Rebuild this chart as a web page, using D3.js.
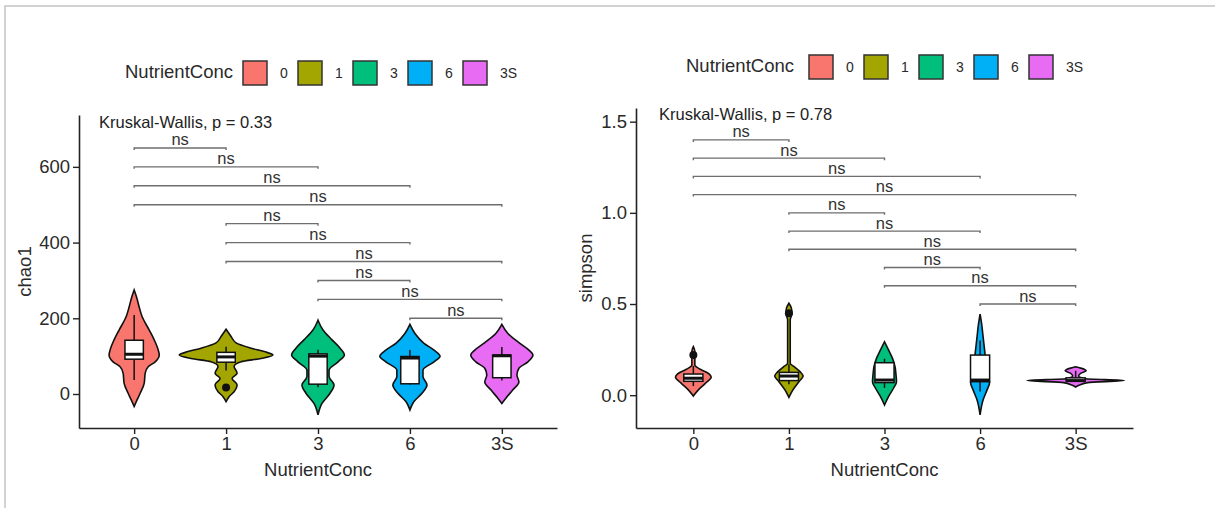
<!DOCTYPE html>
<html>
<head>
<meta charset="utf-8">
<script src="https://cdn.jsdelivr.net/npm/d3@7"></script>
<style>
  html, body { margin: 0; padding: 0; background: #fff; }
  svg { display: block; font-family: "Liberation Sans", Arial, Helvetica, sans-serif; }
</style>
</head>
<body>
<svg id="chart" width="1215" height="508"></svg>
<script>
// ---------------- DATA ----------------
const categories = ["0", "1", "3", "6", "3S"];
const groupColors = ["#F8766D", "#A3A500", "#00BF7D", "#00B0F6", "#E76BF3"];
const legendTitle = "NutrientConc";

// pairwise comparisons (group indices) and their labels
const comparisons = [[0,1],[0,2],[0,3],[0,4],[1,2],[1,3],[1,4],[2,3],[2,4],[3,4]];
const comparisonLabels = ["ns","ns","ns","ns","ns","ns","ns","ns","ns","ns"];

// ---- chao1 panel ----
const chao1Ticks = [0, 200, 400, 600];
const chao1Domain = [-89.8, 737];
const chao1BracketY = [650, 600, 550, 500, 450, 400, 350, 300, 250, 200];
const chao1Test = "Kruskal-Wallis, p = 0.33";
// violin density profiles: [value, relative density]
const chao1Density = [
  [[275,0],[257,2.3],[230,5],[204,8],[169,15],[143,20],[116,24],[103,25],[85,21],[72,14],[55,11],[28,10],[2,6],[-15,3],[-33,0]],
  [[171,0],[152,5],[135,10],[121,25],[112,38],[103,46.7],[94,35],[85,15],[73,8],[55,11],[41,6],[24,11],[6,8],[-7,3],[-20,0]],
  [[195,0],[169,5],[143,14],[121,22],[103,26.3],[85,20],[63,11],[46,11],[24,16],[2,12],[-25,4],[-55,0]],
  [[184,0],[160,5],[134,14],[116,24],[100,30],[85,24],[63,13],[46,13],[24,17],[2,12],[-20,4],[-42,0]],
  [[184,0],[160,6],[134,18],[116,27],[103,31],[85,26],[68,17],[50,15],[32,17],[11,11],[-11,4],[-25,0]]
];
// boxplot stats: [lower whisker, q1, median, q3, upper whisker]
const chao1Box = [
  [37, 92, 105, 142, 209],
  [62, 84, 98, 110, 125],
  [18, 26, 100, 106, 117],
  [25, 27, 95, 99, 116],
  [36, 43, 101, 103, 124]
];
const chao1Outliers = [[1, 17]];

// ---- simpson panel ----
const simpsonTicks = [0, 0.5, 1.0, 1.5];
const simpsonDomain = [-0.18, 1.575];
const simpsonBracketY = [1.4, 1.3, 1.2, 1.1, 1.0, 0.9, 0.8, 0.7, 0.6, 0.5];
const simpsonTest = "Kruskal-Wallis, p = 0.78";
const simpsonDensity = [
  [[0.266,0],[0.239,1.5],[0.211,1.5],[0.166,1.5],[0.142,7],[0.123,14],[0.098,17.8],[0.065,12],[0.029,5],[-0.005,0]],
  [[0.504,0],[0.476,2.5],[0.449,3],[0.412,1.3],[0.175,1.3],[0.153,6],[0.129,11],[0.105,14.2],[0.074,10],[0.029,4],[-0.012,0]],
  [[0.293,0],[0.248,4],[0.202,8],[0.156,10.5],[0.111,11.5],[0.074,12],[0.038,9],[-0.008,4],[-0.054,0]],
  [[0.445,0],[0.394,1.5],[0.321,3],[0.248,4.5],[0.175,6],[0.101,8],[0.069,9.5],[0.029,7],[-0.026,3],[-0.108,0]],
  [[0.156,0],[0.147,6],[0.134,10.5],[0.12,5],[0.105,3],[0.09,10],[0.08,48.7],[0.069,12],[0.056,4],[0.045,0]]
];
const simpsonBox = [
  [0.05, 0.076, 0.093, 0.116, 0.16],
  [0.06, 0.08, 0.105, 0.125, 0.17],
  [0.04, 0.069, 0.083, 0.178, 0.2],
  [0.02, 0.074, 0.083, 0.22, 0.3],
  [0.072, 0.077, 0.08, 0.095, 0.134]
];
const simpsonOutliers = [[0, 0.22], [1, 0.449]];

// ---------------- DRAWING ----------------
const svg = d3.select("#chart");

// outer frame (light gray)
svg.append("path")
  .attr("d", "M5,508 V6 H1215")
  .attr("fill", "none").attr("stroke", "#c4c4c4").attr("stroke-width", 1.5);

function drawPanel(cfg) {
  const g = svg.append("g");
  const x = d3.scalePoint().domain(categories).range([cfg.left, cfg.right]).padding(0.6);
  const y = d3.scaleLinear().domain(cfg.domain).range([cfg.bottom, cfg.top]);
  const step = x.step();
  const allD = d3.max(cfg.density.flat(), d => d[1]);
  const w = d3.scaleLinear().domain([0, allD]).range([0, 0.51 * step]);

  // brackets
  comparisons.forEach((c, i) => {
    const x1 = x(categories[c[0]]), x2 = x(categories[c[1]]);
    const yy = y(cfg.bracketY[i]);
    g.append("path")
      .attr("d", `M${x1},${yy + 2} V${yy} H${x2} V${yy + 2}`)
      .attr("fill", "none").attr("stroke", "#6e6e6e").attr("stroke-width", 1.4);
    g.append("text")
      .attr("x", (x1 + x2) / 2).attr("y", yy - 2.5)
      .attr("text-anchor", "middle")
      .attr("font-size", 16.5).attr("fill", "#333")
      .text(comparisonLabels[i]);
  });

  // violins
  const area = d3.area()
    .curve(d3.curveMonotoneY);
  cfg.density.forEach((prof, i) => {
    const cx = x(categories[i]);
    const pts = prof.slice().sort((a, b) => b[0] - a[0]);
    area.y(d => y(d[0])).x0(d => cx - w(d[1])).x1(d => cx + w(d[1]));
    g.append("path")
      .attr("d", area(pts))
      .attr("fill", groupColors[i])
      .attr("stroke", "#111").attr("stroke-width", 1.6);
  });

  // boxplots
  const bw = 0.2 * step;
  cfg.box.forEach((b, i) => {
    const cx = x(categories[i]);
    g.append("line").attr("x1", cx).attr("x2", cx).attr("y1", y(b[4])).attr("y2", y(b[3]))
      .attr("stroke", "#111").attr("stroke-width", 1.5);
    g.append("line").attr("x1", cx).attr("x2", cx).attr("y1", y(b[1])).attr("y2", y(b[0]))
      .attr("stroke", "#111").attr("stroke-width", 1.5);
    g.append("rect")
      .attr("x", cx - bw / 2).attr("width", bw)
      .attr("y", y(b[3])).attr("height", Math.max(0.5, y(b[1]) - y(b[3])))
      .attr("fill", "#fff").attr("stroke", "#111").attr("stroke-width", 1.5);
    g.append("line").attr("x1", cx - bw / 2).attr("x2", cx + bw / 2)
      .attr("y1", y(b[2])).attr("y2", y(b[2]))
      .attr("stroke", "#111").attr("stroke-width", 3);
  });
  cfg.outliers.forEach(o => {
    g.append("circle").attr("cx", x(categories[o[0]])).attr("cy", y(o[1])).attr("r", 4)
      .attr("fill", "#111");
  });

  // axes
  const yAxis = d3.axisLeft(y).tickValues(cfg.ticks).tickSize(6).tickSizeOuter(0).tickFormat(cfg.fmt);
  const ya = g.append("g").attr("transform", `translate(${cfg.left},0)`).call(yAxis);
  const xAxis = d3.axisBottom(x).tickSize(6).tickSizeOuter(0);
  const xa = g.append("g").attr("transform", `translate(0,${cfg.bottom})`).call(xAxis);
  [ya, xa].forEach(a => {
    a.select(".domain").attr("stroke", "#222").attr("stroke-width", 1.6);
    a.selectAll(".tick line").attr("stroke", "#222").attr("stroke-width", 1.4);
    a.selectAll(".tick text").attr("font-size", 18.5).attr("fill", "#2a2a2a")
      .attr("font-family", '"Liberation Sans", Arial, sans-serif');
  });

  // axis titles
  g.append("text")
    .attr("x", (cfg.left + cfg.right) / 2).attr("y", 476)
    .attr("text-anchor", "middle").attr("font-size", 18.5).attr("fill", "#2a2a2a")
    .text(legendTitle);
  g.append("text")
    .attr("transform", `translate(${cfg.yTitleX},${(cfg.top + cfg.bottom) / 2}) rotate(-90)`)
    .attr("text-anchor", "middle").attr("font-size", 18.5).attr("fill", "#2a2a2a")
    .text(cfg.yTitle);

  // test label
  g.append("text")
    .attr("x", cfg.testX).attr("y", cfg.testY)
    .attr("font-size", 16.5).attr("fill", "#222")
    .text(cfg.test);

  // legend
  const lg = g.append("g");
  lg.append("text").attr("x", cfg.legX).attr("y", cfg.legY + 5)
    .attr("font-size", 18.5).attr("fill", "#2a2a2a").text(legendTitle);
  categories.forEach((c, i) => {
    const sx = cfg.legSquareX + i * 55;
    lg.append("rect").attr("x", sx).attr("y", cfg.legY - 12).attr("width", 24).attr("height", 24)
      .attr("fill", groupColors[i]).attr("stroke", "#333").attr("stroke-width", 1.5);
    lg.append("text").attr("x", sx + 37).attr("y", cfg.legY + 5)
      .attr("font-size", 14).attr("fill", "#2a2a2a").text(c);
  });
}

drawPanel({
  left: 79, right: 557, top: 115, bottom: 428,
  domain: chao1Domain, ticks: chao1Ticks, fmt: d3.format("d"),
  density: chao1Density, box: chao1Box, outliers: chao1Outliers,
  bracketY: chao1BracketY, test: chao1Test, testX: 99, testY: 128,
  yTitle: "chao1", yTitleX: 31,
  legX: 125, legY: 73, legSquareX: 243
});

drawPanel({
  left: 636, right: 1133, top: 108, bottom: 428,
  domain: simpsonDomain, ticks: simpsonTicks, fmt: d3.format(".1f"),
  density: simpsonDensity, box: simpsonBox, outliers: simpsonOutliers,
  bracketY: simpsonBracketY, test: simpsonTest, testX: 659, testY: 120,
  yTitle: "simpson", yTitleX: 592,
  legX: 686, legY: 67, legSquareX: 809
});
</script>
</body>
</html>
